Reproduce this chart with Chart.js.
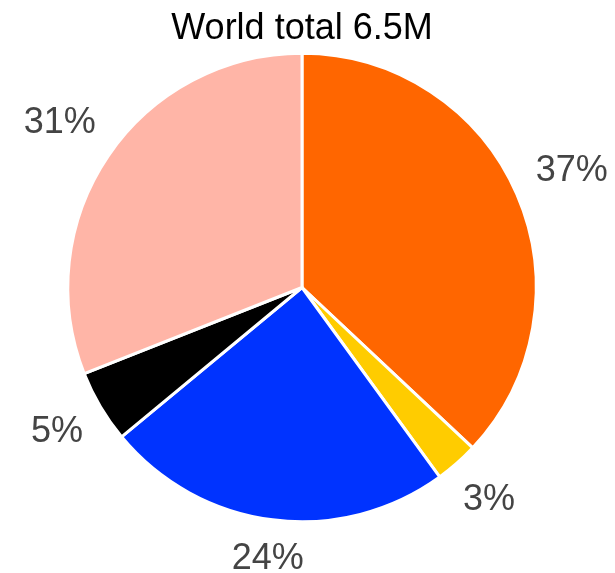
<!DOCTYPE html>
<html>
<head>
<meta charset="utf-8">
<script src="https://cdn.jsdelivr.net/npm/chart.js@4/dist/chart.umd.min.js"></script>
<style>
  html, body { margin: 0; padding: 0; background: #ffffff; }
  #wrap { width: 615px; height: 573px; }
</style>
</head>
<body>
<div id="wrap"><canvas id="pie" width="615" height="573"></canvas></div>
<script>
// Share of the world total, by group (percent)
const categories = ['Group 1', 'Group 2', 'Group 3', 'Group 4', 'Group 5'];
const shares = [37, 3, 24, 5, 31];
const sliceColors = ['#FF6600', '#FFCC00', '#0033FF', '#000000', '#FFB5A7'];
const chartTitle = 'World total 6.5M';

// Percent labels placed just outside each slice, pushed out by the text box extent
const outsideLabels = {
  id: 'outsideLabels',
  afterDatasetsDraw(chart) {
    const ctx = chart.ctx;
    const meta = chart.getDatasetMeta(0);
    const gap = 21;
    ctx.save();
    ctx.font = '36px "Liberation Sans", Arial, sans-serif';
    ctx.fillStyle = '#444444';
    ctx.textAlign = 'center';
    ctx.textBaseline = 'middle';
    meta.data.forEach((arc, i) => {
      const p = arc.getProps(['x', 'y', 'startAngle', 'endAngle', 'outerRadius'], true);
      const mid = (p.startAngle + p.endAngle) / 2;
      const dx = Math.cos(mid), dy = Math.sin(mid);
      const text = shares[i] + '%';
      const w = ctx.measureText(text).width;
      const h = 28;
      const extent = Math.abs(dx) * w / 2 + Math.abs(dy) * h / 2;
      const d = p.outerRadius + gap + extent;
      ctx.fillText(text, p.x + dx * d, p.y + dy * d);
    });
    ctx.restore();
  }
};

new Chart(document.getElementById('pie'), {
  type: 'pie',
  data: {
    labels: categories,
    datasets: [{
      data: shares,
      backgroundColor: sliceColors,
      borderColor: '#ffffff',
      borderWidth: 3
    }]
  },
  options: {
    responsive: false,
    animation: false,
    devicePixelRatio: 1,
    layout: { padding: { left: 66.3, right: 77.3, top: 0, bottom: 49.8 } },
    plugins: {
      legend: { display: false },
      tooltip: { enabled: false },
      title: {
        display: true,
        text: chartTitle,
        color: '#000000',
        font: { family: '"Liberation Sans", Arial, sans-serif', size: 36, weight: 'normal', lineHeight: 1.2 },
        padding: { top: 7, bottom: 1.6 }
      }
    }
  },
  plugins: [outsideLabels]
});
</script>
</body>
</html>
